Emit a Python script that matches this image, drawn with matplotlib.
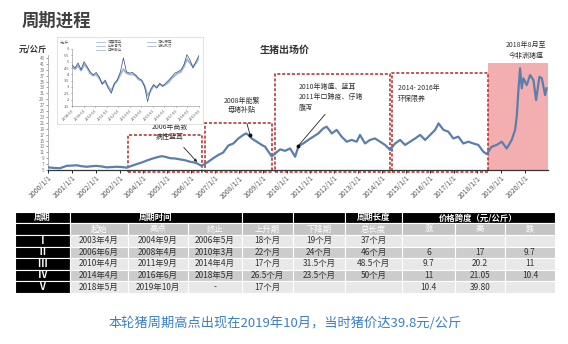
import matplotlib
matplotlib.use("Agg")
import matplotlib.pyplot as plt
from matplotlib.patches import Rectangle

plt.rcParams['font.family'] = ['Noto Sans CJK SC', 'DejaVu Sans']

W, H = 568, 344

# live hog price, yuan/kg
years = [2000.0, 2000.25, 2000.5, 2000.78, 2001.0, 2001.2, 2001.4, 2001.62, 2001.85, 2002.04,
         2002.25, 2002.46, 2002.7, 2002.88, 2003.1, 2003.3, 2003.5, 2003.72, 2003.95, 2004.14,
         2004.35, 2004.56, 2004.77, 2004.95, 2005.12, 2005.33, 2005.53, 2005.75, 2005.95, 2006.1,
         2006.23, 2006.44, 2006.6, 2006.72, 2006.93, 2007.14, 2007.34, 2007.56, 2007.77, 2007.98,
         2008.19, 2008.3, 2008.4, 2008.54, 2008.75, 2008.96, 2009.1, 2009.24, 2009.38, 2009.52,
         2009.73, 2009.94, 2010.15, 2010.36, 2010.5, 2010.7, 2010.91, 2011.12, 2011.33, 2011.54,
         2011.68, 2011.9, 2012.1, 2012.31, 2012.52, 2012.73, 2012.94, 2013.08, 2013.29, 2013.5,
         2013.71, 2013.92, 2014.13, 2014.34, 2014.55, 2014.76, 2014.97, 2015.18, 2015.39, 2015.6,
         2015.81, 2016.02, 2016.23, 2016.37, 2016.58, 2016.78, 2016.99, 2017.2, 2017.41, 2017.62,
         2017.83, 2018.04, 2018.25, 2018.39, 2018.6, 2018.81, 2019.02, 2019.23, 2019.44, 2019.58,
         2019.65, 2019.72, 2019.79, 2019.86, 2019.93, 2020.07, 2020.21, 2020.35, 2020.46, 2020.6,
         2020.7, 2020.84, 2020.9]
price = [5.9, 5.7, 5.6, 6.4, 6.5, 6.6, 6.3, 6.1, 6.3, 6.4,
         6.2, 5.9, 6.0, 6.1, 6.0, 5.8, 6.4, 7.0, 7.6, 8.2,
         8.8, 9.3, 9.7, 9.4, 9.0, 8.9, 8.6, 8.3, 7.8, 7.6,
         7.3, 6.4, 7.2, 7.8, 9.0, 10.1, 10.9, 13.3, 14.0, 15.7,
         16.9, 17.4, 16.9, 15.7, 14.6, 13.5, 12.9, 11.2, 9.6, 10.6,
         12.0, 11.5, 12.3, 9.5, 13.1, 14.0, 15.2, 16.3, 17.4, 19.1,
         19.7, 17.4, 18.6, 16.3, 14.6, 15.2, 14.6, 16.9, 14.0, 15.2,
         15.7, 14.6, 13.5, 11.8, 14.0, 15.2, 13.5, 14.6, 15.7, 16.9,
         15.2, 16.9, 18.6, 20.8, 18.6, 18.0, 15.7, 16.3, 14.0, 14.6,
         14.0, 13.5, 11.2, 10.4, 12.9, 13.5, 14.6, 12.3, 15.2, 18.6,
         23.1, 32.1, 39.5, 32.7, 36.1, 33.8, 37.2, 35.5, 28.7, 36.6,
         36.1, 30.4, 32.7]

# cycle windows (start, end) in years, with the box heights
cycle_spans = [(2003.34, 2006.44), (2006.6, 2009.4), (2009.5, 2014.34), (2014.42, 2018.45)]
cycle_tops = [16.9, 20.9, 37.5, 37.9]
asf_span = (2018.45, 2020.95)

year_ticks = list(range(2000, 2021))
year_labels = [f"{y}/1/1" for y in year_ticks]

# small inset chart (regional prices, yuan/jin)
inset_a = [4.76, 4.5, 4.9, 4.36, 5.0, 4.6, 4.2, 3.95, 4.15, 3.8, 3.2, 3.55, 2.9, 2.5, 3.3,
           3.55, 4.2, 5.3, 4.2, 4.1, 4.15, 3.95, 3.7, 3.55, 3.05, 1.85, 2.8, 3.2, 2.9, 3.3,
           3.05, 3.3, 3.55, 3.8, 4.1, 4.2, 4.35, 4.75, 5.55, 5.15, 4.5, 5.0, 5.5]
inset_b = [4.6, 4.4, 4.7, 4.3, 4.8, 4.5, 4.1, 3.9, 4.0, 3.7, 3.3, 3.4, 3.0, 2.7, 3.2,
           3.5, 4.0, 4.4, 4.1, 4.0, 4.0, 3.9, 3.6, 3.5, 3.1, 2.3, 2.7, 3.1, 3.0, 3.2,
           3.1, 3.2, 3.4, 3.7, 3.9, 4.1, 4.2, 4.6, 5.2, 4.9, 4.6, 4.9, 5.3]
inset_legend = ["河南商丘", "山东青岛", "辽宁鞍山", "河北保定", "湖北武汉"]
inset_xlabels = ["2008-01", "2009-01", "2010-01", "2011-01", "2012-01", "2013-01",
                 "2014-01", "2015-01", "2016-01", "2017-01", "2018-01", "2019-01"]

# table
table_header = ["起始", "高点", "终止", "上升期", "下降期", "总长度", "涨", "高", "跌"]
cycle_names = ["Ⅰ", "Ⅱ", "Ⅲ", "Ⅳ", "Ⅴ"]
table_rows = [
    ["2003年4月", "2004年9月", "2006年5月", "18个月", "19个月", "37个月", "", "", ""],
    ["2006年6月", "2008年4月", "2010年3月", "22个月", "24个月", "46个月", "6", "17", "9.7"],
    ["2010年4月", "2011年9月", "2014年4月", "17个月", "31.5个月", "48.5个月", "9.7", "20.2", "11"],
    ["2014年4月", "2016年6月", "2018年5月", "26.5个月", "23.5个月", "50个月", "11", "21.05", "10.4"],
    ["2018年5月", "2019年10月", "-", "17个月", "", "", "10.4", "39.80", ""],
]


def px_box(l, t, r, b):
    return [l / W, 1 - b / H, (r - l) / W, (b - t) / H]


fig = plt.figure(figsize=(W / 100, H / 100), dpi=100)
fig.patch.set_facecolor("white")

# ---- main chart
ax = fig.add_axes(px_box(48, 55, 548, 170))
ax.plot(years, price, color="#5a7fae", lw=1.6, zorder=3)
ax.set_xlim(2000, 2020.96)
ax.set_ylim(5, 44)
ax.set_xticks(year_ticks)
ax.set_xticklabels(year_labels, rotation=45, ha="right", rotation_mode="anchor",
                   fontsize=5, color="#555555")
ax.set_yticks(range(5, 44, 2))
ax.tick_params(axis="y", labelsize=3.3, length=1.5, width=0.5, colors="#777777", pad=1)
ax.tick_params(axis="x", length=2, width=0.6, pad=1)
for s in ["top", "right"]:
    ax.spines[s].set_visible(False)
ax.spines["left"].set_color("#999999")
ax.spines["left"].set_linewidth(0.5)
ax.spines["bottom"].set_color("#333333")
ax.spines["bottom"].set_linewidth(0.9)

for (x0, x1), top in zip(cycle_spans, cycle_tops):
    ax.add_patch(Rectangle((x0, 4.4), x1 - x0, top - 4.4, fill=False, ec="#b22a2a",
                           lw=1.1, ls=(0, (2, 1.2)), clip_on=False, zorder=2))
ax.add_patch(Rectangle((asf_span[0], 5), asf_span[1] - asf_span[0], 41.3 - 5,
                       fc="#f2a7a7", ec="none", alpha=0.9, zorder=1))

afs = 5
ax.annotate("2006年高致\n病性蓝耳", xy=(2006.25, 7.7), xytext=(2005.1, 17.9),
            fontsize=afs, ha="center", va="center", color="#333333",
            arrowprops=dict(arrowstyle="-|>", color="#222222", lw=0.6, mutation_scale=4,
                            shrinkA=4, shrinkB=0))
ax.annotate("2008年能繁\n母猪补贴", xy=(2008.47, 16.9), xytext=(2008.13, 27.0),
            fontsize=afs, ha="center", va="center", color="#333333",
            arrowprops=dict(arrowstyle="-", color="#222222", lw=0.6, shrinkA=5, shrinkB=0))
ax.plot([2008.47], [16.9], "o", ms=1.8, color="#111111", zorder=4)
ax.annotate("2010年猪瘟、蓝耳\n2011年口蹄疫、仔猪\n腹泻", xy=(2010.48, 13.1), xytext=(2010.5, 29.7),
            fontsize=afs, ha="left", va="center", color="#333333", linespacing=1.4,
            arrowprops=dict(arrowstyle="-", color="#222222", lw=0.6, shrinkA=0, shrinkB=0,
                            relpos=(0.45, 0)))
ax.plot([2010.48], [13.1], "o", ms=1.8, color="#111111", zorder=4)
ax.text(2014.68, 30.8, "2014- 2016年\n环保限养", fontsize=afs, ha="left", va="center",
        color="#333333", linespacing=1.5)
ax.text(2020.04, 45.5, "2018年8月至\n今非洲猪瘟", fontsize=afs, ha="center", va="center",
        color="#333333", linespacing=1.5)

fig.text(19 / W, 1 - 49 / H, "元/公斤", fontsize=6, fontweight="bold", color="#333333",
         va="center")
fig.text(285 / W, 1 - 50 / H, "生猪出场价", fontsize=7.2, fontweight="bold", color="#333333",
         ha="center", va="center")
fig.text(22 / W, 1 - 21 / H, "周期进程", fontsize=12.5, fontweight="bold", color="#404040",
         va="center")

# ---- inset
frame = fig.add_axes(px_box(57, 37, 203, 124))
frame.set_xticks([])
frame.set_yticks([])
for s in frame.spines.values():
    s.set_color("#dddddd")
    s.set_linewidth(0.6)
frame.set_zorder(5)

ins = fig.add_axes(px_box(72, 49, 199, 106))
ins.set_zorder(6)
ins.patch.set_alpha(0)
idx = list(range(len(inset_a)))
ins.plot(idx, inset_b, color="#9db6d6", lw=1.4)
ins.plot(idx, inset_a, color="#34507a", lw=0.5)
ins.set_xlim(0, len(inset_a) - 1)
ins.set_ylim(1.5, 6)
ins.set_yticks([1.5, 2, 2.5, 3, 3.5, 4, 4.5, 5, 5.5, 6])
ins.set_yticklabels(["1.5", "2", "2.5", "3", "3.5", "4", "4.5", "5", "5.5", "6"])
ins.set_xticks([i * (len(inset_a) - 1) / 11 for i in range(12)])
ins.set_xticklabels(inset_xlabels, rotation=45, ha="right", rotation_mode="anchor")
ins.tick_params(labelsize=2.8, length=1, width=0.4, pad=1, colors="#555555")
for s in ["top", "right"]:
    ins.spines[s].set_visible(False)
for s in ["left", "bottom"]:
    ins.spines[s].set_linewidth(0.4)
    ins.spines[s].set_color("#888888")
ins.text(-0.02, 1.1, "元/斤", transform=ins.transAxes, fontsize=2.8, color="#555555", ha="right")
leg_cols = [(0.28, inset_legend[:3]), (0.68, inset_legend[3:])]
for lx, names in leg_cols:
    for k, name in enumerate(names):
        ly = 1.13 - k * 0.075
        ins.plot([lx - 0.09, lx - 0.02], [ly, ly], transform=ins.transAxes, clip_on=False,
                 color="#7f96b8", lw=0.4)
        ins.text(lx, ly, name, transform=ins.transAxes, fontsize=2.6, color="#555555",
                 va="center")

# ---- table
tab = fig.add_axes([0, 0, 1, 1])
tab.set_xlim(0, W)
tab.set_ylim(H, 0)
tab.axis("off")
tab.set_zorder(0)

col_edges = [15, 70, 128, 188, 242, 293, 345, 402, 455, 505, 555]
row_edges = [212, 223, 235, 246.5, 258, 269.5, 281, 293]


def cell(x0, x1, y0, y1, fc, text="", color="#333333", weight="normal", size=6):
    tab.add_patch(Rectangle((x0, y0), x1 - x0, y1 - y0, fc=fc, ec="white", lw=0.8))
    if text:
        tab.text((x0 + x1) / 2, (y0 + y1) / 2, text, ha="center", va="center",
                 fontsize=size, color=color, fontweight=weight)


y0, y1 = row_edges[0], row_edges[1]
cell(15, 70, y0, y1, "black", "周期", "white", "bold")
cell(70, 242, y0, y1, "black", "周期时间", "white", "bold")
cell(242, 293, y0, y1, "black")
cell(293, 345, y0, y1, "black")
cell(345, 402, y0, y1, "black", "周期长度", "white", "bold")
cell(402, 555, y0, y1, "black", "价格跨度（元/公斤）", "white", "bold")

y0, y1 = row_edges[1], row_edges[2]
cell(15, 70, y0, y1, "black")
for j, h in enumerate(table_header):
    cell(col_edges[j + 1], col_edges[j + 2], y0, y1, "#c4c4c4", h, "white")

for i, (name, row) in enumerate(zip(cycle_names, table_rows)):
    y0, y1 = row_edges[i + 2], row_edges[i + 3]
    fc = "#e8e8e8" if i % 2 == 0 else "#cccccc"
    cell(15, 70, y0, y1, "black", name, "white", "bold", 7)
    for j, v in enumerate(row):
        cell(col_edges[j + 1], col_edges[j + 2], y0, y1, fc, v)

fig.text(285 / W, 1 - 323 / H, "本轮猪周期高点出现在2019年10月，当时猪价达39.8元/公斤",
         fontsize=9.5, color="#3a7fc6", ha="center", va="center")

fig.savefig("out.png", dpi=100)
plt.close(fig)
